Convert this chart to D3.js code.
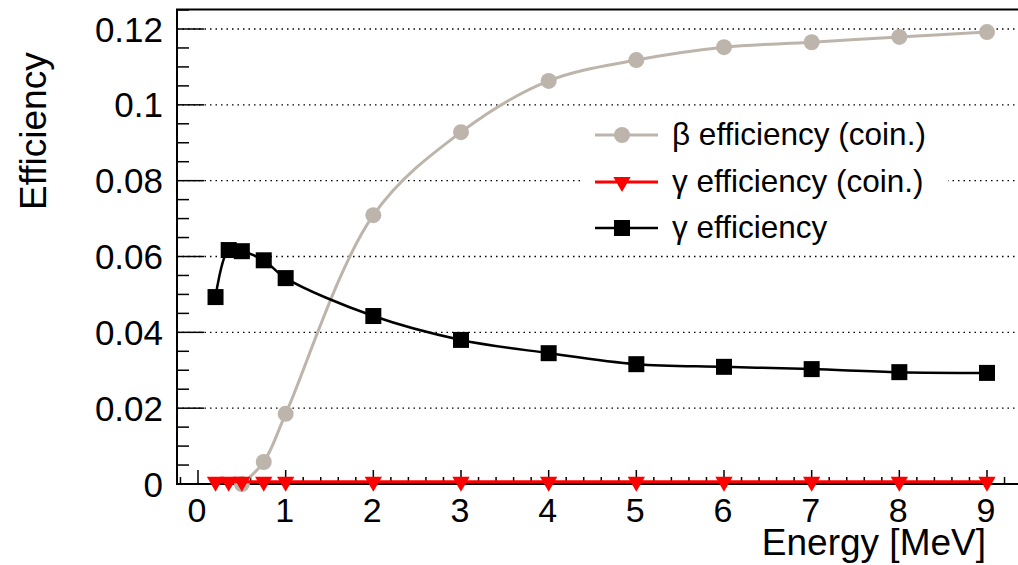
<!DOCTYPE html>
<html lang="en">
<head>
    <meta charset="UTF-8">
    <script src="https://cdn.jsdelivr.net/npm/d3@7"></script>
    <title>Efficiency vs energy</title>
    <style>
        body { margin: 0; background: #fff; }
        svg { display: block; font-family: "Liberation Sans", Arial, sans-serif; }
        .grid line { stroke: #000; stroke-width: 1.3; stroke-dasharray: 1.5 4; }
    </style>
</head>
<body>
<svg width="1018" height="565"></svg>

<script>
    // energies [MeV]
    const energies = [0.2, 0.35, 0.5, 0.75, 1, 2, 3, 4, 5, 6, 7, 8, 9];
    const betaEnergies = [0.5, 0.75, 1, 2, 3, 4, 5, 6, 7, 8, 9];

    const betaCoin  = [0.0, 0.0058, 0.0185, 0.0709, 0.0928, 0.1063, 0.1118, 0.1152, 0.1165, 0.1179, 0.1192];
    const gammaCoin = [0.0006, 0.0006, 0.0006, 0.0006, 0.0006, 0.0006, 0.0006, 0.0006, 0.0006, 0.0006, 0.0006, 0.0006, 0.0006];
    const gammaEff  = [0.0493, 0.0617, 0.0614, 0.0590, 0.0543, 0.0443, 0.0380, 0.0345, 0.0316, 0.0309, 0.0303, 0.0295, 0.0293];

    const yTicks = [0, 0.02, 0.04, 0.06, 0.08, 0.1, 0.12];
    const xTicks = [0, 1, 2, 3, 4, 5, 6, 7, 8, 9];

    const labels = ["\u03b2 efficiency (coin.)", "\u03b3 efficiency (coin.)", "\u03b3 efficiency"];

    const svg = d3.select("svg");
    const W = 1018, H = 565;

    const padL = 177, padT = 9.5, padB = 484;

    const x = d3.scaleLinear().domain([0, 9]).range([198, 987]);
    const y = d3.scaleLinear().domain([0, 0.12]).range([padB, 29]);

    // dotted grid at major y ticks
    svg.append("g").attr("class", "grid")
        .selectAll("line")
        .data(yTicks.slice(1))
        .join("line")
          .attr("x1", padL).attr("x2", W)
          .attr("y1", d => y(d)).attr("y2", d => y(d));

    // frame (top + left + bottom), right side is off the picture
    svg.append("path")
        .attr("d", `M${W},${padT}H${padL}V${padB}H${W}`)
        .attr("fill", "none").attr("stroke", "#000").attr("stroke-width", 2);

    // y ticks
    const yMinor = d3.range(0, 0.1251, 0.005);
    svg.append("g").selectAll("line")
        .data(yMinor)
        .join("line")
          .attr("x1", padL)
          .attr("x2", d => padL + (Math.abs(d / 0.02 - Math.round(d / 0.02)) < 1e-6 ? 27 : 12))
          .attr("y1", d => y(d)).attr("y2", d => y(d))
          .attr("stroke", "#000").attr("stroke-width", 1.5);

    svg.append("g").selectAll("text")
        .data(yTicks)
        .join("text")
          .attr("x", 163).attr("y", d => y(d) + 12.5)
          .attr("text-anchor", "end")
          .attr("font-size", 35)
          .text(d => d === 0 ? "0" : d3.format("~g")(d));

    // x ticks
    const xMinor = d3.range(-0.2, 9.61, 0.2);
    svg.append("g").selectAll("line")
        .data(xMinor)
        .join("line")
          .attr("x1", d => x(d)).attr("x2", d => x(d))
          .attr("y1", padB)
          .attr("y2", d => padB - (Math.abs(d - Math.round(d)) < 1e-6 ? 14 : 7))
          .attr("stroke", "#000").attr("stroke-width", 1.5);

    svg.append("g").selectAll("text")
        .data(xTicks)
        .join("text")
          .attr("x", d => x(d) - 1).attr("y", 522)
          .attr("text-anchor", "middle")
          .attr("font-size", 34)
          .text(d => d);

    // axis titles
    svg.append("text")
        .attr("x", 986).attr("y", 555)
        .attr("text-anchor", "end")
        .attr("font-size", 37)
        .text("Energy [MeV]");

    svg.append("text")
        .attr("transform", "translate(46,210) rotate(-90)")
        .attr("font-size", 37)
        .text("Efficiency");

    const line = d3.line().curve(d3.curveCatmullRom.alpha(0.5));

    const betaPts  = betaEnergies.map((e, i) => [x(e), y(betaCoin[i])]);
    const gCoinPts = energies.map((e, i) => [x(e), y(gammaCoin[i])]);
    const gEffPts  = energies.map((e, i) => [x(e), y(gammaEff[i])]);

    const gray = "#bdb5ab";

    // beta (coin.)
    svg.append("path").attr("d", line(betaPts))
        .attr("fill", "none").attr("stroke", gray).attr("stroke-width", 3);
    svg.append("g").selectAll("circle")
        .data(betaPts)
        .join("circle")
          .attr("cx", d => d[0]).attr("cy", d => d[1]).attr("r", 8)
          .attr("fill", gray);

    // gamma (coin.)
    const tri = d3.symbol().type(d3.symbolTriangle).size(130);
    svg.append("path").attr("d", line(gCoinPts))
        .attr("fill", "none").attr("stroke", "#ff0000").attr("stroke-width", 3);
    svg.append("g").selectAll("path")
        .data(gCoinPts)
        .join("path")
          .attr("d", tri)
          .attr("transform", d => `translate(${d[0]},${d[1]}) rotate(180)`)
          .attr("fill", "#ff0000");

    // gamma eff
    svg.append("path").attr("d", line(gEffPts))
        .attr("fill", "none").attr("stroke", "#000").attr("stroke-width", 2.5);
    svg.append("g").selectAll("rect")
        .data(gEffPts)
        .join("rect")
          .attr("x", d => d[0] - 8).attr("y", d => d[1] - 8)
          .attr("width", 16).attr("height", 16)
          .attr("fill", "#000");

    // legend
    const lg = svg.append("g");
    lg.append("rect")
        .attr("x", 583).attr("y", 110).attr("width", 365).attr("height", 142)
        .attr("fill", "#fff");

    const rows = [
        {color: gray, sw: 3, mark: "circle"},
        {color: "#ff0000", sw: 3, mark: "tri"},
        {color: "#000", sw: 2.5, mark: "square"}
    ];
    const rowY = [135, 182, 228];

    rows.forEach((r, i) => {
        const cy = rowY[i];
        lg.append("line")
            .attr("x1", 595).attr("x2", 658).attr("y1", cy).attr("y2", cy)
            .attr("stroke", r.color).attr("stroke-width", r.sw);
        if (r.mark === "circle") {
            lg.append("circle").attr("cx", 622).attr("cy", cy).attr("r", 8).attr("fill", r.color);
        } else if (r.mark === "tri") {
            lg.append("path").attr("d", tri)
                .attr("transform", `translate(622,${cy}) rotate(180)`)
                .attr("fill", r.color);
        } else {
            lg.append("rect").attr("x", 614).attr("y", cy - 8)
                .attr("width", 16).attr("height", 16).attr("fill", r.color);
        }
        lg.append("text")
            .attr("x", 672).attr("y", cy + 10)
            .attr("font-size", 31.5)
            .text(labels[i]);
    });
</script>

</body>
</html>
